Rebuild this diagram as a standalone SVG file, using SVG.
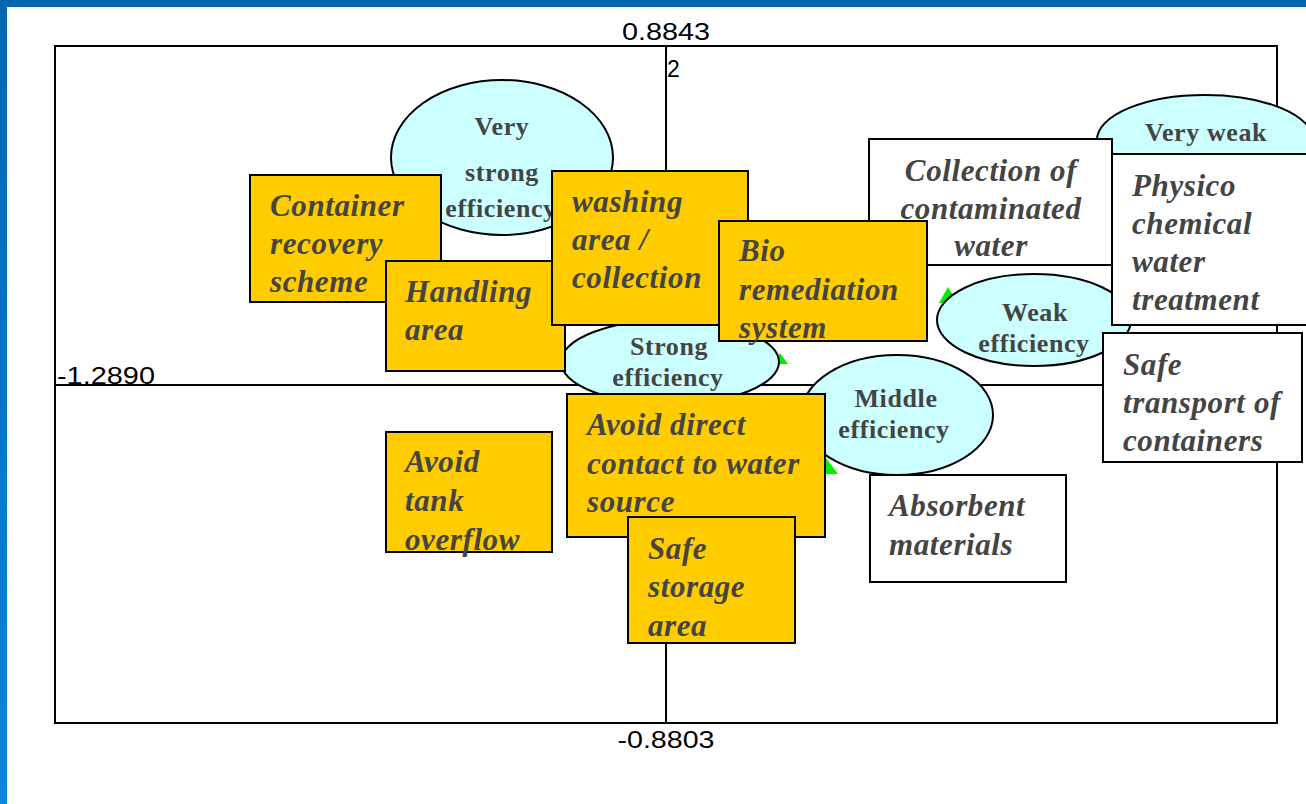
<svg xmlns="http://www.w3.org/2000/svg" width="1306" height="804" viewBox="0 0 1306 804">
<defs>
<linearGradient id="lb" x1="0" y1="0" x2="0" y2="1">
<stop offset="0" stop-color="#0066b0"/>
<stop offset="1" stop-color="#0a86dc"/>
</linearGradient>
<style>
.frame{fill:none;stroke:#000;stroke-width:2}
.axis{stroke:#000;stroke-width:2}
.alab{font-family:"Liberation Sans",Arial,sans-serif;font-size:23px;fill:#000}
.ell{fill:#ccffff;stroke:#000;stroke-width:2}
.etx{font-family:"Liberation Serif","Times New Roman",serif;font-weight:bold;font-size:26px;letter-spacing:0.6px;fill:#444;text-anchor:middle}
.wbox{fill:#fff;stroke:#000;stroke-width:2}
.obox{fill:#ffcc00;stroke:#000;stroke-width:2}
.btx{font-family:"Liberation Serif","Times New Roman",serif;font-weight:bold;font-style:italic;font-size:31px;letter-spacing:0.6px;fill:#444}
.tri{fill:#00ee00}
</style>
</defs>
<rect x="0" y="0" width="1306" height="804" fill="#fff"/>
<rect x="0" y="0" width="1306" height="7" fill="#0066b0"/>
<rect x="0" y="0" width="7" height="804" fill="url(#lb)"/>

<g id="plot-frame">
<rect class="frame" x="55" y="46" width="1222" height="677"/>
<line class="axis" x1="666" y1="46" x2="666" y2="723"/>
<line class="axis" x1="55" y1="385" x2="1277" y2="385"/>
<text class="alab" x="666" y="40" text-anchor="middle" textLength="88" lengthAdjust="spacingAndGlyphs">0.8843</text>
<text class="alab" x="667" y="77">2</text>
<text class="alab" x="57" y="384" textLength="98" lengthAdjust="spacingAndGlyphs">-1.2890</text>
<text class="alab" x="666" y="748" text-anchor="middle" textLength="97" lengthAdjust="spacingAndGlyphs">-0.8803</text>
</g>

<g id="markers">
<polygon class="tri" points="948,287 939,303 958,303"/>
<polygon class="tri" points="780,353 775,364 788,364"/>
<polygon class="tri" points="826,458 822,474 838,474"/>
</g>

<g id="connectors"></g>

<g id="very-strong-efficiency">
<ellipse class="ell" cx="502" cy="157.5" rx="111" ry="77.5"/>
<text class="etx" x="502" y="135">Very</text>
<text class="etx" x="502" y="181">strong</text>
<text class="etx" x="501" y="217">efficiency</text>
</g>
<g id="very-weak">
<ellipse class="ell" cx="1205" cy="140" rx="108" ry="45"/>
<text class="etx" x="1206" y="141">Very weak</text>
</g>
<g id="strong-efficiency">
<ellipse class="ell" cx="670" cy="362" rx="109" ry="42"/>
<text class="etx" x="669" y="355">Strong</text>
<text class="etx" x="668" y="386">efficiency</text>
</g>
<g id="weak-efficiency">
<ellipse class="ell" cx="1034" cy="320" rx="97" ry="46"/>
<text class="etx" x="1035" y="321">Weak</text>
<text class="etx" x="1034" y="352">efficiency</text>
</g>
<g id="middle-efficiency">
<ellipse class="ell" cx="897" cy="415" rx="96" ry="60"/>
<text class="etx" x="896" y="407">Middle</text>
<text class="etx" x="894" y="438">efficiency</text>
</g>

<g id="collection-contaminated-water">
<rect class="wbox" x="869" y="139" width="243" height="126"/>
<text class="btx" x="991" y="181" text-anchor="middle">Collection of</text>
<text class="btx" x="991" y="219" text-anchor="middle">contaminated</text>
<text class="btx" x="991" y="256" text-anchor="middle">water</text>
</g>
<g id="physico-chemical">
<rect class="wbox" x="1112" y="154" width="200" height="171"/>
<text class="btx" x="1132" y="196">Physico</text>
<text class="btx" x="1132" y="234">chemical</text>
<text class="btx" x="1132" y="272">water</text>
<text class="btx" x="1132" y="310">treatment</text>
</g>
<g id="safe-transport">
<rect class="wbox" x="1103" y="333" width="199" height="129"/>
<text class="btx" x="1123" y="375">Safe</text>
<text class="btx" x="1123" y="413">transport of</text>
<text class="btx" x="1123" y="451">containers</text>
</g>
<g id="absorbent-materials">
<rect class="wbox" x="870" y="475" width="196" height="107"/>
<text class="btx" x="889" y="516">Absorbent</text>
<text class="btx" x="889" y="555">materials</text>
</g>

<g id="container-recovery">
<rect class="obox" x="250" y="175" width="191" height="127"/>
<text class="btx" x="270" y="216">Container</text>
<text class="btx" x="270" y="254">recovery</text>
<text class="btx" x="270" y="292">scheme</text>
</g>
<g id="handling-area">
<rect class="obox" x="386" y="261" width="179" height="110"/>
<text class="btx" x="405" y="302">Handling</text>
<text class="btx" x="405" y="340">area</text>
</g>
<g id="washing-area">
<rect class="obox" x="552" y="171" width="196" height="154"/>
<text class="btx" x="572" y="212">washing</text>
<text class="btx" x="572" y="250">area /</text>
<text class="btx" x="572" y="288">collection</text>
</g>
<g id="bio-remediation">
<rect class="obox" x="719" y="221" width="208" height="120"/>
<text class="btx" x="739" y="261">Bio</text>
<text class="btx" x="739" y="300">remediation</text>
<text class="btx" x="739" y="338">system</text>
</g>
<g id="avoid-direct-contact">
<rect class="obox" x="567" y="394" width="258" height="143"/>
<text class="btx" x="587" y="435">Avoid direct</text>
<text class="btx" x="587" y="474">contact to water</text>
<text class="btx" x="587" y="512">source</text>
</g>
<g id="safe-storage">
<rect class="obox" x="628" y="517" width="167" height="126"/>
<text class="btx" x="648" y="559">Safe</text>
<text class="btx" x="648" y="597">storage</text>
<text class="btx" x="648" y="636">area</text>
</g>
<g id="avoid-tank-overflow">
<rect class="obox" x="386" y="432" width="166" height="120"/>
<text class="btx" x="405" y="472">Avoid</text>
<text class="btx" x="405" y="511">tank</text>
<text class="btx" x="405" y="550">overflow</text>
</g>
</svg>
